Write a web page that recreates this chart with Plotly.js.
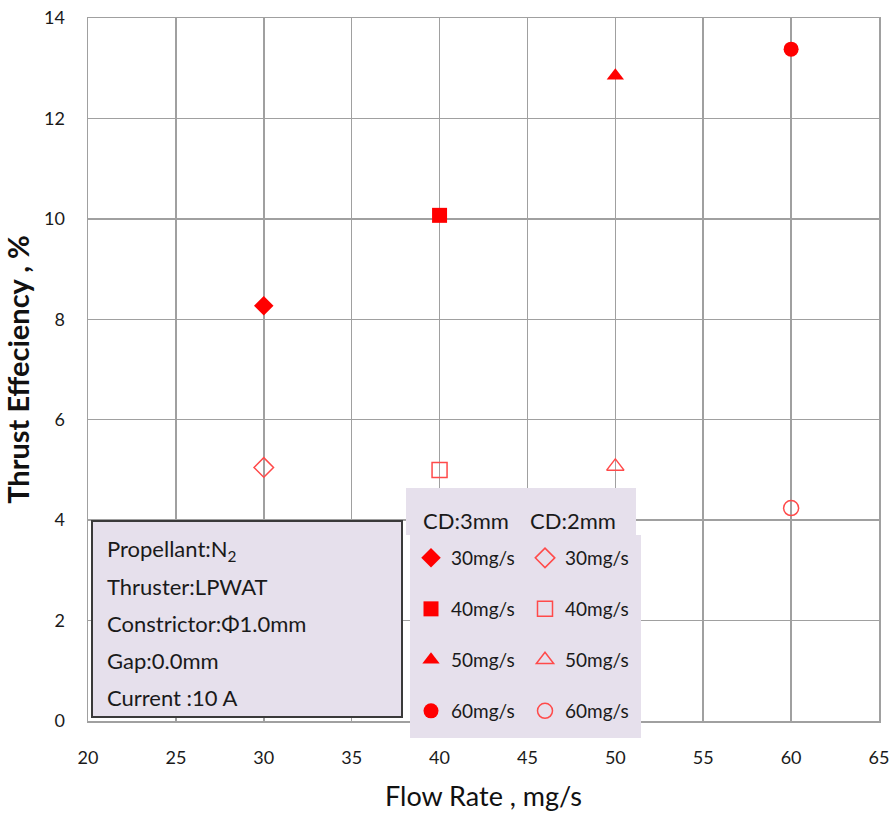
<!DOCTYPE html>
<html>
<head>
<meta charset="utf-8">
<script src="https://cdn.plot.ly/plotly-3.0.1.min.js"></script>
<style>html,body{margin:0;padding:0;background:#fff}#chart{width:892px;height:816px}</style>
</head>
<body>
<div id="chart"></div>
<script>
// ---- data ----
const flowRates = [30, 40, 50, 60];
const labels = ["30mg/s", "40mg/s", "50mg/s", "60mg/s"];
const effCD3 = [8.27, 10.07, 12.85, 13.38];
const effCD2 = [5.05, 5.0, 5.07, 4.24];
const symbolsCD3 = ["diamond", "square", "triangle-up", "circle"];
const symbolsCD2 = ["diamond-open", "square-open", "triangle-up-open", "circle-open"];
const infoLines = ["Propellant:N<sub>2</sub>", "Thruster:LPWAT", "Constrictor:\u03A61.0mm", "Gap:0.0mm", "Current :10 A"];
const headers = ["CD:3mm", "CD:2mm"];

// ---- layout helpers (pixel -> paper) ----
const L = 88, R = 879, T = 18, B = 721;
const PX = p => (p - L) / (R - L);
const PY = p => (B - p) / (B - T);
const FONT = "Lato, 'Open Sans', sans-serif";

const traces = [];
const legends = {};
const rowY = [558, 609, 660, 711];
for (let i = 0; i < flowRates.length; i++) {
  const k1 = "legend" + (i === 0 ? "" : (2 * i + 1));
  const k2 = "legend" + (2 * i + 2);
  traces.push({
    type: "scatter", mode: "markers", x: [flowRates[i]], y: [effCD3[i]], name: labels[i],
    legend: k1, cliponaxis: false,
    marker: {symbol: symbolsCD3[i], color: "#ff0000", size: 15}
  });
  traces.push({
    type: "scatter", mode: "markers", x: [flowRates[i]], y: [effCD2[i]], name: labels[i],
    legend: k2, cliponaxis: false,
    marker: {symbol: symbolsCD2[i], color: "#ff4a4a", size: 15, line: {color: "#ff4a4a", width: 1.5}}
  });
  const lg = (x, y) => ({x: PX(x), y: PY(y), xanchor: "left", yanchor: "middle",
    bgcolor: "rgba(0,0,0,0)", borderwidth: 0, font: {family: FONT, size: 19, color: "#1a1a1a"},
    itemwidth: 30, tracegroupgap: 0});
  legends[k1] = lg(411, rowY[i]);
  legends[k2] = lg(525, rowY[i]);
}

const shapes = [
  {type: "path", xref: "paper", yref: "paper", layer: "above",
   path: `M ${PX(406)} ${PY(488)} L ${PX(636)} ${PY(488)} L ${PX(636)} ${PY(535)} L ${PX(641)} ${PY(535)} L ${PX(641)} ${PY(738)} L ${PX(410)} ${PY(738)} L ${PX(410)} ${PY(535)} L ${PX(406)} ${PY(535)} Z`,
   fillcolor: "#e6e0ec", line: {width: 0}},
  {type: "rect", xref: "paper", yref: "paper", layer: "above",
   x0: PX(92), x1: PX(402), y0: PY(717), y1: PY(521),
   fillcolor: "#e6e0ec", line: {color: "#3a3a3a", width: 2}}
];

const annotations = [];
const infoY = [550, 586, 623, 660, 697];
infoLines.forEach((t, i) => annotations.push({
  xref: "paper", yref: "paper", x: PX(105), y: PY(infoY[i]), xanchor: "left", yanchor: "middle",
  text: t, showarrow: false, font: {family: FONT, size: 22, color: "#1a1a1a"}
}));
const headX = [466, 573];
headers.forEach((t, i) => annotations.push({
  xref: "paper", yref: "paper", x: PX(headX[i]), y: PY(520), xanchor: "center", yanchor: "middle",
  text: t, showarrow: false, font: {family: FONT, size: 22, color: "#1a1a1a"}
}));

const layout = Object.assign({
  width: 892, height: 816,
  margin: {l: L, r: 892 - R, t: T, b: 816 - B},
  paper_bgcolor: "#fff", plot_bgcolor: "#fff",
  font: {family: FONT, color: "#1a1a1a"},
  xaxis: {
    range: [20, 65], dtick: 5, tick0: 20,
    showgrid: true, gridcolor: "#a0a0a0", gridwidth: 1.5,
    showline: true, linecolor: "#a0a0a0", linewidth: 1.5, mirror: true, zeroline: false,
    ticks: "outside", ticklen: 20, tickcolor: "rgba(0,0,0,0)",
    tickfont: {family: FONT, size: 18, color: "#1a1a1a"},
    title: {text: "Flow Rate , mg/s", font: {family: FONT, size: 27, color: "#111"}, standoff: 20}
  },
  yaxis: {
    range: [0, 14], dtick: 2, tick0: 0,
    showgrid: true, gridcolor: "#a0a0a0", gridwidth: 1.5,
    showline: true, linecolor: "#a0a0a0", linewidth: 1.5, mirror: true, zeroline: false,
    ticks: "outside", ticklen: 18, tickcolor: "rgba(0,0,0,0)",
    tickfont: {family: FONT, size: 18, color: "#1a1a1a"},
    title: {text: "<b>Thrust Effeciency , %</b>", font: {family: FONT, size: 29, color: "#111"}, standoff: 7}
  },
  showlegend: true,
  shapes: shapes,
  annotations: annotations
}, legends);

Plotly.newPlot("chart", traces, layout, {displayModeBar: false, staticPlot: true});
</script>
</body>
</html>
